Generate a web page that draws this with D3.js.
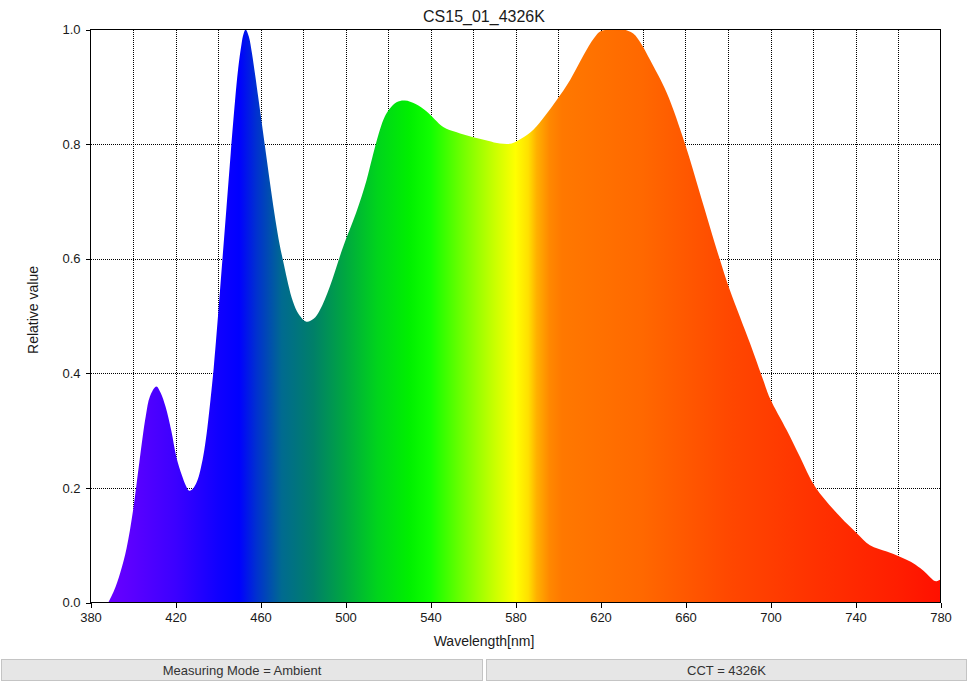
<!DOCTYPE html>
<html>
<head>
<meta charset="utf-8">
<script src="https://cdn.jsdelivr.net/npm/d3@7"></script>
<style>
  html, body { margin: 0; padding: 0; background: #fff; }
  svg { display: block; font-family: "Liberation Sans", Arial, sans-serif; }
</style>
</head>
<body>
<svg id="chart" width="970" height="683"></svg>
<script>
// ---- Data ----
const title = "CS15_01_4326K";
const xLabel = "Wavelength[nm]";
const yLabel = "Relative value";
const footerTexts = ["Measuring Mode = Ambient", "CCT = 4326K"];

const wavelengths = [388.4, 391, 394, 397, 400, 403, 406, 408, 411, 413, 415.3, 418, 420.4, 423, 425, 426.5,
  428.5, 430.5, 432, 433.5, 435, 436.5, 438, 440, 442, 444, 446, 448, 449.5, 451, 452, 453, 454.5, 456, 457.5,
  459, 461, 463, 465, 467, 469, 471, 473, 475.3, 478, 481.6, 485, 487.9, 492.6, 498.9, 505, 509.9, 512.5,
  516.2, 518.5, 520.9, 524, 527.9, 533, 538.2, 546, 552, 560.1, 567, 572.7, 578.2, 583, 588.4, 594, 599.4,
  605.7, 612, 617, 620, 624.5, 630.6, 635.4, 639.5, 643.3, 651.2, 659.8, 666.8, 676.2, 680.9, 690.4, 696.6,
  699.8, 707.6, 713.9, 721, 732.7, 740.6, 746.8, 754.7, 760.9, 766, 770.4, 773.5, 776.6, 778, 780];
const relValues = [0, 0.02, 0.052, 0.095, 0.16, 0.245, 0.325, 0.36, 0.377, 0.366, 0.342, 0.30, 0.254, 0.222,
  0.203, 0.195, 0.200, 0.215, 0.236, 0.265, 0.305, 0.355, 0.41, 0.50, 0.595, 0.69, 0.785, 0.875, 0.932, 0.973,
  0.992, 1.0, 0.988, 0.958, 0.92, 0.88, 0.826, 0.772, 0.718, 0.668, 0.625, 0.59, 0.556, 0.525, 0.503, 0.49,
  0.495, 0.51, 0.551, 0.621, 0.68, 0.737, 0.775, 0.825, 0.848, 0.862, 0.873, 0.876, 0.870, 0.857, 0.83,
  0.821, 0.812, 0.806, 0.801, 0.801, 0.81, 0.825, 0.85, 0.877, 0.912, 0.955, 0.985, 0.997, 1.0, 1.0, 0.993,
  0.973, 0.947, 0.889, 0.80, 0.714, 0.598, 0.545, 0.452, 0.388, 0.356, 0.301, 0.254, 0.202, 0.150, 0.121,
  0.100, 0.089, 0.080, 0.071, 0.060, 0.05, 0.039, 0.037, 0.040];

const xTicks = [380, 420, 460, 500, 540, 580, 620, 660, 700, 740, 780];
const xGrid = [400, 420, 440, 460, 480, 500, 520, 540, 560, 580, 600, 620, 640, 660, 680, 700, 720, 740, 760];
const yTicks = [0, 0.2, 0.4, 0.6, 0.8, 1.0];
const yGrid = [0.2, 0.4, 0.6, 0.8];

const gradWl = [380, 400, 420, 440, 450, 458, 470, 485, 500, 515, 530, 540, 555, 570, 580, 586, 590, 596, 602, 640, 680, 720, 760, 780];
const gradColors = ["#7300ff", "#5a00ff", "#3c00ff", "#1000ff", "#0000ff", "#0030d0", "#006a90", "#008068",
  "#00a840", "#00d41c", "#00f000", "#10ff00", "#70ff00", "#c8ff00", "#ffff00", "#ffe000", "#ffb000", "#ff8800",
  "#ff7800", "#ff6800", "#ff4800", "#ff3200", "#ff1e00", "#ff1000"];

// ---- Drawing ----
const svg = d3.select("#chart");
const x = d3.scaleLinear().domain([380, 780]).range([90.5, 940.5]);
const y = d3.scaleLinear().domain([0, 1]).range([602.5, 29.5]);

const defs = svg.append("defs");
const grad = defs.append("linearGradient")
  .attr("id", "spec").attr("gradientUnits", "userSpaceOnUse")
  .attr("x1", x(380)).attr("x2", x(780)).attr("y1", 0).attr("y2", 0);
gradWl.forEach((w, i) => {
  grad.append("stop").attr("offset", (w - 380) / 400).attr("stop-color", gradColors[i]);
});

// grid
const grid = svg.append("g").attr("stroke", "#000").attr("stroke-width", 1)
  .attr("stroke-dasharray", "1,1").attr("shape-rendering", "crispEdges");
grid.selectAll("line.v").data(xGrid).join("line").attr("class", "v")
  .attr("x1", d => Math.round(x(d)) + 0.5).attr("x2", d => Math.round(x(d)) + 0.5)
  .attr("y1", y(1)).attr("y2", y(0));
grid.selectAll("line.h").data(yGrid).join("line").attr("class", "h")
  .attr("x1", x(380)).attr("x2", x(780))
  .attr("y1", d => Math.round(y(d)) + 0.5).attr("y2", d => Math.round(y(d)) + 0.5);

// area
const data = wavelengths.map((w, i) => [w, relValues[i]]);
const area = d3.area().x(d => x(d[0])).y0(y(0)).y1(d => y(d[1])).curve(d3.curveCatmullRom.alpha(0.5));
svg.append("path").datum(data).attr("d", area).attr("fill", "url(#spec)");

// frame
svg.append("rect").attr("x", x(380)).attr("y", y(1))
  .attr("width", x(780) - x(380)).attr("height", y(0) - y(1))
  .attr("fill", "none").attr("stroke", "#000").attr("stroke-width", 1).attr("shape-rendering", "crispEdges");

// axes
const xAxis = d3.axisBottom(x).tickValues(xTicks).tickFormat(d3.format("d")).tickSizeOuter(0).tickSize(5).tickPadding(5);
const gx = svg.append("g").attr("transform", `translate(0,${y(0)})`).call(xAxis);
const yAxis = d3.axisLeft(y).tickValues(yTicks).tickFormat(d3.format(".1f")).tickSizeOuter(0).tickSize(5).tickPadding(5);
const gy = svg.append("g").attr("transform", `translate(${x(380)},0)`).call(yAxis);
[gx, gy].forEach(g => {
  g.select(".domain").remove();
  g.selectAll("text").attr("font-size", 13).attr("fill", "#1a1a1a")
    .attr("font-family", "'Liberation Sans', Arial, sans-serif");
  g.selectAll("line").attr("stroke", "#000").attr("shape-rendering", "crispEdges");
});

// titles
svg.append("text").attr("x", 484).attr("y", 22).attr("text-anchor", "middle")
  .attr("font-size", 16).attr("fill", "#1a1a1a").text(title);
svg.append("text").attr("x", 484).attr("y", 646).attr("text-anchor", "middle")
  .attr("font-size", 14).attr("fill", "#1a1a1a").text(xLabel);
svg.append("text").attr("transform", "translate(38,310) rotate(-90)").attr("text-anchor", "middle")
  .attr("font-size", 14).attr("fill", "#1a1a1a").text(yLabel);

// footer boxes
const boxes = [[1, 483], [486, 967]];
boxes.forEach((b, i) => {
  svg.append("rect").attr("x", b[0] + 0.5).attr("y", 659.5).attr("width", b[1] - b[0] - 1).attr("height", 21)
    .attr("fill", "#e6e6e6").attr("stroke", "#c4c4c4").attr("stroke-width", 1);
  svg.append("text").attr("x", (b[0] + b[1]) / 2).attr("y", 675).attr("text-anchor", "middle")
    .attr("font-size", 13).attr("fill", "#333").text(footerTexts[i]);
});
</script>
</body>
</html>
